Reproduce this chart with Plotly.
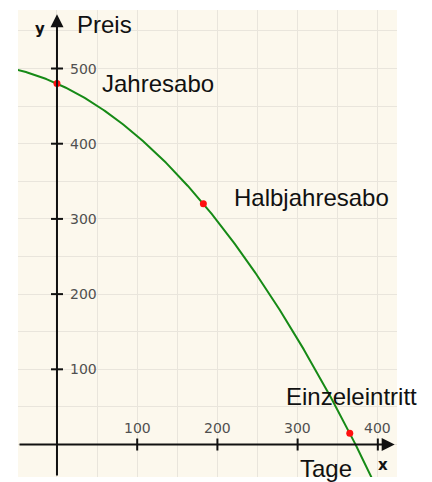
import numpy as np
import plotly.graph_objects as go

# Data
days = [0, 182.5, 365]
prices = [480, 320, 15]
point_labels = ["Jahresabo", "Halbjahresabo", "Einzeleintritt"]
x_ticks = [100, 200, 300, 400]
y_ticks = [100, 200, 300, 400, 500]

coef = np.polyfit(days, prices, 2)
xs = np.linspace(-60, 430, 300)
ys = np.polyval(coef, xs)

XR = [-48.6, 423.9]
YR = [-43.2, 577.8]

fig = go.Figure()
fig.add_trace(go.Scatter(x=xs, y=ys, mode="lines",
                         line=dict(color="#168a16", width=2), hoverinfo="skip"))
fig.add_trace(go.Scatter(x=days, y=prices, mode="markers",
                         marker=dict(color="#ff1010", size=7), hoverinfo="skip"))

annotations = []
# axes with arrows
annotations.append(dict(x=421, y=0, ax=XR[0], ay=0, xref="x", yref="y", axref="x", ayref="y",
                        text="", showarrow=True, arrowhead=2, arrowsize=1.3, arrowwidth=2,
                        arrowcolor="#111", standoff=0))
annotations.append(dict(x=0, y=572, ax=0, ay=YR[0], xref="x", yref="y", axref="x", ayref="y",
                        text="", showarrow=True, arrowhead=2, arrowsize=1.3, arrowwidth=2,
                        arrowcolor="#111", standoff=0))

tick_font = dict(family="DejaVu Sans", size=14, color="#505050")
for v in y_ticks:
    annotations.append(dict(x=0, y=v, xref="x", yref="y", text=str(v), showarrow=False,
                            xanchor="left", yanchor="middle", xshift=11, font=tick_font))
for v in x_ticks:
    annotations.append(dict(x=v, y=0, xref="x", yref="y", text=str(v), showarrow=False,
                            xanchor="center", yanchor="middle", yshift=17, font=tick_font))

big = dict(family="Liberation Sans, Arial", size=24, color="#111")
label_pos = [(54, 480), (218, 328), (283, 64.5)]
for (lx, ly), t in zip(label_pos, point_labels):
    annotations.append(dict(x=lx, y=ly, xref="x", yref="y", text=t, showarrow=False,
                            xanchor="left", yanchor="middle", font=big))
annotations.append(dict(x=22.4, y=558, xref="x", yref="y", text="Preis", showarrow=False,
                        xanchor="left", yanchor="middle", font=big))
annotations.append(dict(x=300.5, y=-32, xref="x", yref="y", text="Tage", showarrow=False,
                        xanchor="left", yanchor="middle", font=big))
bold = dict(family="DejaVu Sans", size=15, color="#111", weight="bold")
annotations.append(dict(x=-21, y=553, xref="x", yref="y", text="<b>y</b>", showarrow=False,
                        xanchor="center", yanchor="middle", font=bold))
annotations.append(dict(x=406, y=-26.6, xref="x", yref="y", text="<b>x</b>", showarrow=False,
                        xanchor="center", yanchor="middle", font=bold))

shapes = []
for v in x_ticks:
    shapes.append(dict(type="line", xref="x", yref="y", ysizemode="pixel", yanchor=0,
                       x0=v, x1=v, y0=-6, y1=6, line=dict(color="#111", width=2)))
for v in y_ticks:
    shapes.append(dict(type="line", xref="x", yref="y", xsizemode="pixel", xanchor=0,
                       x0=-6, x1=6, y0=v, y1=v, line=dict(color="#111", width=2)))

# the page body has an 8px default margin, so the figure is shifted by 8px
fig.update_layout(
    width=424, height=474,
    margin=dict(l=10, r=35, t=2, b=5),
    paper_bgcolor="white", plot_bgcolor="#fcf8ed",
    showlegend=False,
    annotations=annotations, shapes=shapes,
    xaxis=dict(range=XR, dtick=50, tick0=0, showgrid=True, gridcolor="#e9e5dc", gridwidth=1,
               zeroline=False, showticklabels=False, ticks="", showline=False, fixedrange=True),
    yaxis=dict(range=YR, dtick=50, tick0=0, showgrid=True, gridcolor="#e9e5dc", gridwidth=1,
               zeroline=False, showticklabels=False, ticks="", showline=False, fixedrange=True),
)
fig.write_html("out.html", config={"displayModeBar": False})
